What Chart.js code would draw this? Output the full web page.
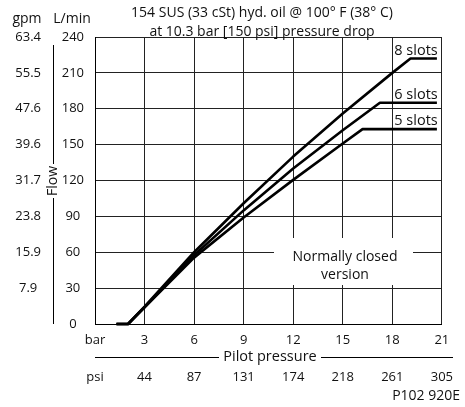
<!DOCTYPE html>
<html>
<head>
<meta charset="utf-8">
<script src="https://cdn.jsdelivr.net/npm/chart.js@4.4.1/dist/chart.umd.min.js"></script>
<style>
  html, body { margin: 0; padding: 0; background: #fff; }
  #wrap { width: 465px; height: 407px; }
</style>
</head>
<body>
<div id="wrap"><canvas id="grafik" width="465" height="407"></canvas></div>
<script>
// tick labels
const barLabels = ["bar", "3", "6", "9", "12", "15", "18", "21"];
const psiLabels = ["psi", "44", "87", "131", "174", "218", "261", "305"];
const gpmLabels = ["", "7.9", "15.9", "23.8", "31.7", "39.6", "47.6", "55.5", "63.4"];

// curves (pilot pressure in bar, flow in L/min)
const druk8 = [1.3, 2, 3, 6, 9, 12, 15, 18, 19.1, 20.7];
const flow8 = [0, 0, 14.5, 60, 101, 140, 176, 210, 222, 222];
const druk6 = [1.3, 2, 3, 6, 9, 12, 15, 17.25, 20.7];
const flow6 = [0, 0, 14, 57.5, 95, 130, 162, 185, 185];
const druk5 = [1.3, 2, 3, 6, 9, 12, 15, 16.2, 20.7];
const flow5 = [0, 0, 14, 55.5, 89, 120.5, 151, 163, 163];
const slotNames = ["8 slots", "6 slots", "5 slots"];

const FONT = "'Open Sans', sans-serif";
Chart.defaults.font.family = FONT;
Chart.defaults.font.size = 13;
Chart.defaults.color = "#111";

function maakPunten(xs, ys) {
    return xs.map((x, i) => ({ x: x, y: ys[i] }));
}

function lijn(label, xs, ys) {
    return {
        label: label,
        data: maakPunten(xs, ys),
        borderColor: "#000",
        borderWidth: 2.6,
        pointRadius: 0,
        tension: 0,
        borderJoinStyle: "round",
        clip: false
    };
}

// extra text and the lines around the axis titles
const annotaties = {
    id: "annotaties",
    afterDatasetsDraw(chart) {
        const ctx = chart.ctx;
        const xs = chart.scales.x;
        const ys = chart.scales.y;
        ctx.save();
        ctx.fillStyle = "#111";
        ctx.textBaseline = "alphabetic";

        // "Normally closed version" box
        ctx.fillStyle = "#fff";
        ctx.fillRect(274, 238, 139, 47);
        ctx.fillStyle = "#111";
        ctx.font = "14px " + FONT;
        ctx.textAlign = "center";
        ctx.fillText("Normally closed", 345, 261);
        ctx.fillText("version", 345, 279);

        // slot labels above the plateaus
        ctx.font = "14.5px " + FONT;
        ctx.textAlign = "left";
        const plateaus = [flow8[flow8.length - 1], flow6[flow6.length - 1], flow5[flow5.length - 1]];
        slotNames.forEach((naam, i) => {
            ctx.fillText(naam, xs.getPixelForValue(18) + 2, ys.getPixelForValue(plateaus[i]) - 4);
        });

        // title
        ctx.font = "14px " + FONT;
        ctx.textAlign = "center";
        ctx.fillText("154 SUS (33 cSt) hyd. oil @ 100° F (38° C)", 262, 17);
        ctx.fillText("at 10.3 bar [150 psi] pressure drop", 262, 36);

        // unit headers
        ctx.fillText("gpm", 27, 23);
        ctx.fillText("L/min", 72, 23);

        // Flow line
        ctx.strokeStyle = "#000";
        ctx.lineWidth = 1;
        ctx.beginPath();
        ctx.moveTo(53.5, 45);
        ctx.lineTo(53.5, 164);
        ctx.moveTo(53.5, 198);
        ctx.lineTo(53.5, 324);
        ctx.stroke();
        ctx.save();
        ctx.translate(53, 181);
        ctx.rotate(-Math.PI / 2);
        ctx.textBaseline = "middle";
        ctx.fillText("Flow", 0, 0);
        ctx.restore();

        // Pilot pressure line
        ctx.beginPath();
        ctx.moveTo(95, 357.5);
        ctx.lineTo(219, 357.5);
        ctx.moveTo(321, 357.5);
        ctx.lineTo(453, 357.5);
        ctx.stroke();
        ctx.font = "14.5px " + FONT;
        ctx.textBaseline = "middle";
        ctx.fillText("Pilot pressure", 270, 357);

        // drawing number
        ctx.font = "14px " + FONT;
        ctx.textAlign = "right";
        ctx.textBaseline = "alphabetic";
        ctx.fillText("P102 920E", 460, 400);
        ctx.restore();
    }
};

const ctx = document.getElementById("grafik").getContext("2d");
new Chart(ctx, {
    type: "line",
    data: {
        datasets: [
            lijn(slotNames[0], druk8, flow8),
            lijn(slotNames[1], druk6, flow6),
            lijn(slotNames[2], druk5, flow5)
        ]
    },
    options: {
        responsive: false,
        animation: false,
        layout: { padding: { top: 37, right: 11, bottom: 0, left: 0 } },
        plugins: { legend: { display: false }, tooltip: { enabled: false } },
        scales: {
            x: {
                type: "linear",
                position: "bottom",
                min: 0,
                max: 21,
                weight: 0,
                afterFit: s => { s.height = 33; },
                ticks: {
                    stepSize: 3,
                    autoSkip: false,
                    maxRotation: 0,
                    padding: 8,
                    callback: (v, i) => barLabels[i]
                },
                grid: { color: "#222", drawTicks: false },
                border: { color: "#000", width: 1 }
            },
            psi: {
                type: "linear",
                position: "bottom",
                min: 0,
                max: 21,
                weight: 1,
                afterFit: s => { s.height = 50; },
                ticks: {
                    stepSize: 3,
                    autoSkip: false,
                    maxRotation: 0,
                    padding: 12,
                    callback: (v, i) => psiLabels[i]
                },
                grid: { display: false, drawTicks: false },
                border: { display: false }
            },
            y: {
                type: "linear",
                position: "left",
                min: 0,
                max: 240,
                weight: 0,
                afterFit: s => { s.width = 42; },
                ticks: { stepSize: 30, padding: 11, crossAlign: "center" },
                grid: { color: "#222", drawTicks: false },
                border: { color: "#000", width: 1 }
            },
            gpm: {
                type: "linear",
                position: "left",
                min: 0,
                max: 240,
                weight: 1,
                afterFit: s => { s.width = 53; },
                ticks: {
                    stepSize: 30,
                    padding: 12,
                    crossAlign: "center",
                    callback: (v, i) => gpmLabels[i]
                },
                grid: { display: false, drawTicks: false },
                border: { display: false }
            }
        }
    },
    plugins: [annotaties]
});
</script>
</body>
</html>
